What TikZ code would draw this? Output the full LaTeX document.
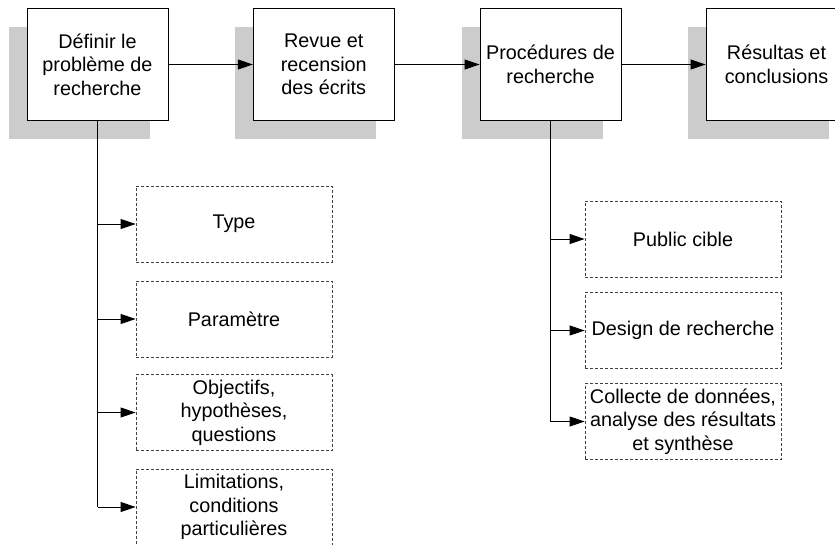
\documentclass[tikz,border=0pt]{standalone}
\usepackage{fontspec}
\setmainfont{Liberation Sans}
\usetikzlibrary{arrows.meta,shadows}
\definecolor{shadowgray}{HTML}{CCCCCC}
\definecolor{dashgray}{HTML}{404040}
\begin{document}
\begin{tikzpicture}[x=1pt,y=-1pt,
  every node/.style={font=\fontsize{19.8}{23.5}\selectfont, align=center, inner sep=0pt},
  mainbox/.style={draw=black, line width=0.9pt, fill=white, minimum width=141pt, minimum height=112pt,
    general shadow={fill=shadowgray, shadow xshift=-18pt, shadow yshift=-18pt}},
  subbox/.style={draw=dashgray, line width=0.8pt, dash pattern=on 3pt off 2pt, fill=white,
    minimum width=196pt, minimum height=76pt},
  arr/.style={line width=0.9pt, -{Triangle[length=15pt,width=10pt]}},
  trunk/.style={line width=1.8pt}
]
\useasboundingbox (0,0) rectangle (835,544);
\clip (0,0) rectangle (835,544);

\node[mainbox] (b1) at (97.5,64.5) {Définir le\\problème de\\recherche};
\node[mainbox] (b2) at (323.8,64.5) {Revue et\\recension\\des écrits};
\node[mainbox] (b3) at (550.5,64.5) {Procédures de\\recherche};
\node[mainbox] (b4) at (776.5,64.5) {Résultas et\\conclusions};

\draw[arr] (b1.east) -- (b2.west);
\draw[arr] (b2.east) -- (b3.west);
\draw[arr] (b3.east) -- (b4.west);

\node[subbox] (type) at (234,224) {Type};
\node[subbox] (param) at (234,319) {Paramètre};
\node[subbox] (obj) at (234,412.5) {Objectifs,\\hypothèses,\\questions};
\node[subbox] (lim) at (234,507) {Limitations,\\conditions\\particulières};

\node[subbox] (pub) at (683,239) {Public cible};
\node[subbox] (des) at (683,330.5) {Design de recherche};
\node[subbox] (col) at (683,421.5) {Collecte de données,\\analyse des résultats\\et synthèse};

\coordinate (t1) at (b1.south |- lim.west);
\coordinate (t2) at (b3.south |- col.west);
\draw[trunk] (b1.south) -- (t1);
\draw[trunk] (b3.south) -- (t2);

\draw[arr] (t1 |- type.west) -- (type.west);
\draw[arr] (t1 |- param.west) -- (param.west);
\draw[arr] (t1 |- obj.west) -- (obj.west);
\draw[arr] (t1) -- (lim.west);

\draw[arr] (t2 |- pub.west) -- (pub.west);
\draw[arr] (t2 |- des.west) -- (des.west);
\draw[arr] (t2) -- (col.west);
\end{tikzpicture}
\end{document}
